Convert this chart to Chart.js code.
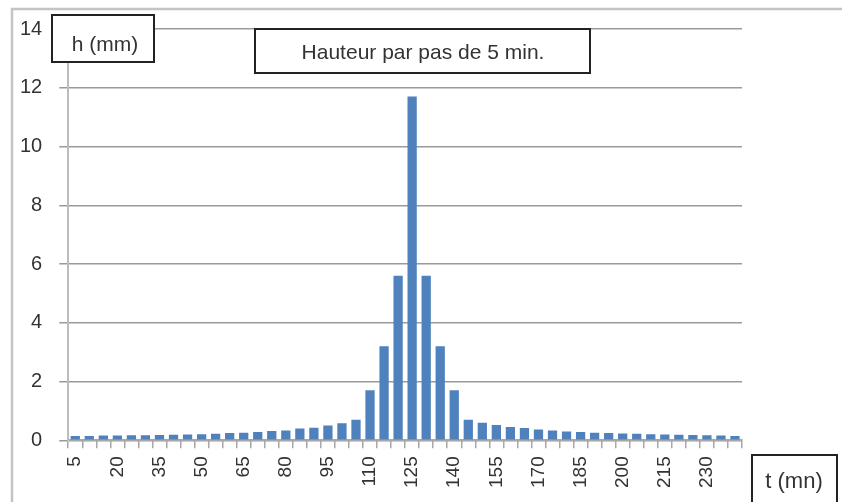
<!DOCTYPE html>
<html>
<head>
<meta charset="utf-8">
<script src="https://cdn.jsdelivr.net/npm/chart.js@4"></script>
<style>
  html, body { margin: 0; padding: 0; background: #fff; }
  #wrap { width: 842px; height: 502px; }
</style>
</head>
<body>
<div id="wrap"><canvas id="bars" width="842" height="502"></canvas></div>
<script>
let minutes = [
  5, 10, 15, 20, 25, 30, 35, 40, 45, 50, 55, 60, 65, 70, 75, 80,
  85, 90, 95, 100, 105, 110, 115, 120, 125, 130, 135, 140, 145, 150, 155, 160,
  165, 170, 175, 180, 185, 190, 195, 200, 205, 210, 215, 220, 225, 230, 235, 240,
];
let height = [
  0.15, 0.15, 0.16, 0.16, 0.17, 0.17, 0.18, 0.19, 0.2, 0.21, 0.22, 0.25, 0.26, 0.28, 0.32, 0.33,
  0.4, 0.43, 0.5, 0.58, 0.7, 1.7, 3.2, 5.6, 11.7, 5.6, 3.2, 1.7, 0.7, 0.6, 0.52, 0.45,
  0.42, 0.37, 0.33, 0.3, 0.28, 0.26, 0.25, 0.23, 0.22, 0.21, 0.2, 0.19, 0.18, 0.17, 0.16, 0.15,
];
let yTicks = [0, 2, 4, 6, 8, 10, 12, 14];
let yLabel = "h (mm)";
let xLabel = "t (mn)";
let title = "Hauteur par pas de 5 min.";

let font = "'Liberation Sans', Arial, sans-serif";

// boxes, frame lines
let decor = {
  id: "decor",
  afterDraw(chart) {
    let c = chart.ctx;
    c.save();
    c.strokeStyle = "#c4c4c4";
    c.lineWidth = 2.5;
    c.beginPath();
    c.moveTo(12, 502);
    c.lineTo(12, 9);
    c.lineTo(842, 9);
    c.stroke();

    let box = (x, y, w, h, text, tx, ty, size) => {
      c.fillStyle = "#fff";
      c.fillRect(x, y, w, h);
      c.strokeStyle = "#222";
      c.lineWidth = 2;
      c.strokeRect(x, y, w, h);
      c.fillStyle = "#333";
      c.font = size + "px " + font;
      c.textAlign = "center";
      c.textBaseline = "middle";
      c.fillText(text, tx, ty);
    };
    box(52, 15, 102, 47, yLabel, 105, 45, 21);
    box(255, 29, 335, 44, title, 423, 53, 21);
    box(752, 455, 85, 60, xLabel, 794, 482, 22);
    c.restore();
  },
};

let ctx = document.getElementById("bars").getContext("2d");
let chart = new Chart(ctx, {
  type: "bar",
  data: {
    labels: minutes,
    datasets: [
      {
        label: "h",
        data: height,
        backgroundColor: "#4f81bd",
        borderWidth: 0,
        barPercentage: 0.66,
        categoryPercentage: 1,
      },
    ],
  },
  options: {
    responsive: false,
    animation: false,
    layout: { padding: { left: 3, right: 100, top: 11, bottom: 6 } },
    plugins: { legend: { display: false }, tooltip: { enabled: false } },
    scales: {
      x: {
        grid: { offset: true, drawOnChartArea: false, tickLength: 8, color: "#a8a8a8", lineWidth: 1.5 },
        border: { color: "#a8a8a8", width: 2 },
        ticks: {
          autoSkip: false,
          minRotation: 90,
          maxRotation: 90,
          padding: 8,
          color: "#333",
          font: { family: font, size: 19 },
          callback: (v, i) => (i % 3 === 0 ? String(minutes[i]) : ""),
        },
      },
      y: {
        min: 0,
        max: 14,
        afterBuildTicks: (axis) => {
          axis.ticks = yTicks.map((v) => ({ value: v }));
        },
        grid: { color: "#9a9a9a", lineWidth: 1.5, tickLength: 9 },
        border: { color: "#bcbcbc", width: 2 },
        ticks: {
          padding: 17,
          color: "#333",
          font: { family: font, size: 20 },
        },
      },
    },
  },
  plugins: [decor],
});
</script>
</body>
</html>
